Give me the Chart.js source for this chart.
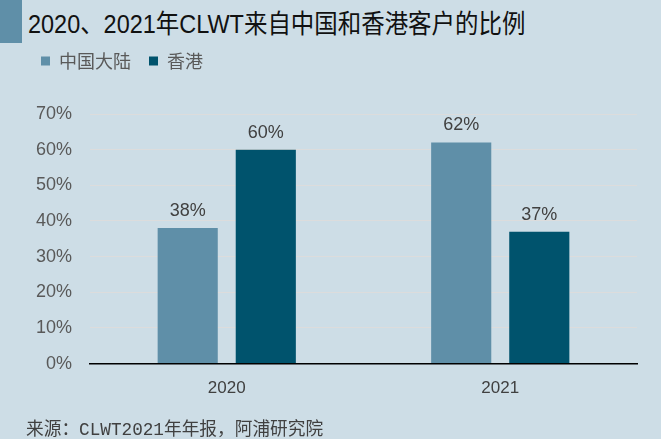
<!DOCTYPE html>
<html>
<head>
<meta charset="utf-8">
<script src="https://cdn.jsdelivr.net/npm/chart.js@4"></script>
<style>
  body { margin: 0; background: #cddde6; width: 661px; height: 439px; overflow: hidden; position: relative;
         font-family: Arial, "Liberation Sans", "Noto Sans CJK SC", sans-serif; }
  #head { position: absolute; left: 0; top: 0; width: 661px; height: 43px; }
  #head .blk { position: absolute; left: 0; top: 0; width: 22px; height: 43px; background: #5f8fa8; }
  #head .txt { position: absolute; left: 28px; top: 9px; font-size: 26px; color: #111; line-height: 30px;
               font-family: Arial, "Liberation Sans", "Noto Sans CJK SC", sans-serif; white-space: nowrap;
               transform-origin: 0 0; }
  #box { position: absolute; left: 0; top: 34px; width: 661px; height: 381px; }
  #foot { position: absolute; left: 26px; top: 414px; font-size: 17.7px; color: #404040; white-space: nowrap;
          font-family: "Liberation Mono", "Noto Sans CJK SC", monospace; }
</style>
</head>
<body>
<div id="head"><div class="blk"></div><div class="txt" id="ttl">2020、2021年CLWT来自中国和香港客户的比例</div></div>
<div id="box"><canvas id="c"></canvas></div>
<div id="foot">来源：CLWT2021年年报，阿浦研究院</div>
<script>
const years = ["2020", "2021"];
const mainland = [38, 62];
const hongkong = [60, 37];
const seriesNames = ["中国大陆", "香港"];

// squeeze the title to the narrow look of the original
const ttl = document.getElementById("ttl");
ttl.style.transform = "scaleX(" + (497 / ttl.offsetWidth) + ")";

const legendSpace = {
  id: "legendSpace",
  beforeInit(chart) {
    const fit = chart.legend.fit;
    chart.legend.fit = function () {
      fit.bind(chart.legend)();
      this.height += 34;
    };
  }
};

const barLabels = {
  id: "barLabels",
  afterDatasetsDraw(chart) {
    const ctx = chart.ctx;
    ctx.save();
    ctx.font = "18px Arial, 'Liberation Sans', sans-serif";
    ctx.fillStyle = "#404040";
    ctx.textAlign = "center";
    ctx.textBaseline = "bottom";
    chart.data.datasets.forEach((ds, i) => {
      chart.getDatasetMeta(i).data.forEach((bar, j) => {
        ctx.fillText(ds.data[j] + "%", bar.x, bar.y - 8);
      });
    });
    ctx.restore();
  }
};

new Chart(document.getElementById("c"), {
  type: "bar",
  data: {
    labels: years,
    datasets: [
      { label: seriesNames[0], data: mainland, backgroundColor: "#5f8fa8",
        barPercentage: 0.77, categoryPercentage: 0.571 },
      { label: seriesNames[1], data: hongkong, backgroundColor: "#00536d",
        barPercentage: 0.77, categoryPercentage: 0.571 }
    ]
  },
  options: {
    responsive: true,
    maintainAspectRatio: false,
    animation: false,
    layout: { padding: { left: 23, right: 24, top: 0, bottom: 1 } },
    plugins: {
      legend: {
        align: "start",
        labels: {
          boxWidth: 9, boxHeight: 9, padding: 18,
          color: "#595959",
          font: { size: 18, family: "'Noto Sans CJK SC', sans-serif" }
        }
      },
      tooltip: { enabled: false }
    },
    scales: {
      x: {
        grid: { display: false, drawTicks: false },
        border: { color: "#000", width: 1.5 },
        ticks: { color: "#404040", padding: 15, font: { size: 17, family: "Arial, 'Liberation Sans'" } }
      },
      y: {
        min: 0, max: 70,
        afterFit(scale) { scale.width = 67; },
        grid: { color: "#dcdcdc", lineWidth: 1, drawTicks: false },
        border: { display: false },
        ticks: {
          stepSize: 10, padding: 18, color: "#595959",
          font: { size: 18, family: "Arial, 'Liberation Sans'" },
          callback: v => v + "%"
        }
      }
    }
  },
  plugins: [legendSpace, barLabels]
});
</script>
</body>
</html>
